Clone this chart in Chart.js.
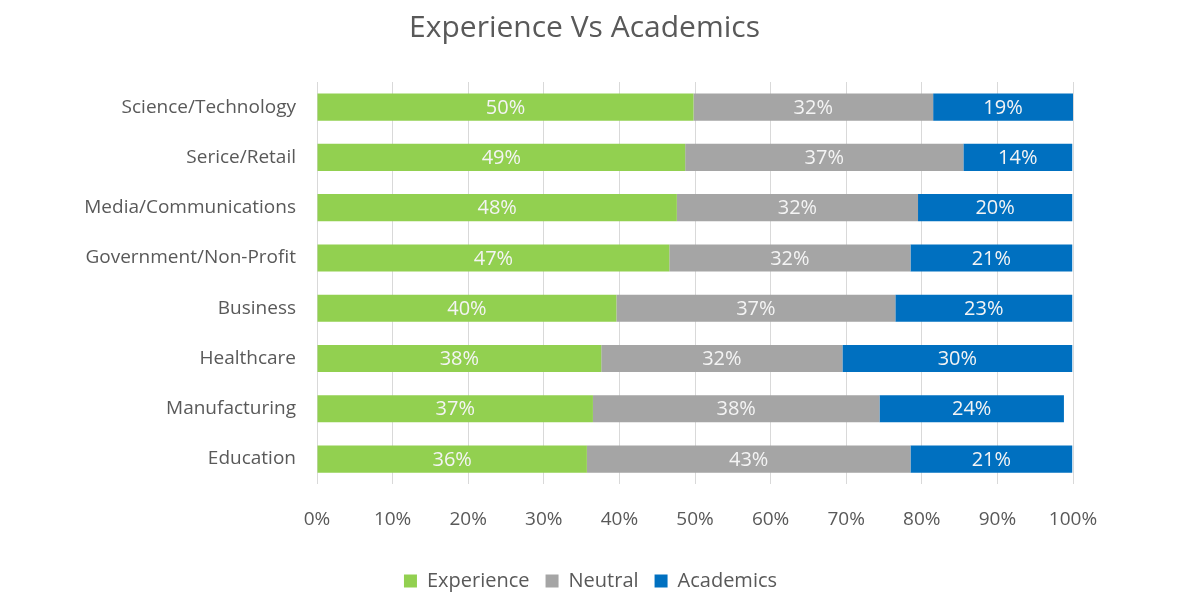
<!DOCTYPE html>
<html>
<head>
<meta charset="utf-8">
<script src="https://cdn.jsdelivr.net/npm/chart.js@4.4.0/dist/chart.umd.min.js"></script>
<style>
  html, body { margin: 0; padding: 0; background: #fff; }
  #wrap { width: 1200px; height: 614px; }
</style>
</head>
<body>
<div id="wrap"><canvas id="myChart"></canvas></div>
<script>
// categorias y valores (en %)
const categorias = [
  "Science/Technology",
  "Serice/Retail",
  "Media/Communications",
  "Government/Non-Profit",
  "Business",
  "Healthcare",
  "Manufacturing",
  "Education"
];
const experiencia = [49.8, 48.7, 47.6, 46.6, 39.6, 37.6, 36.5, 35.7];
const neutral = [31.7, 36.8, 31.9, 31.9, 36.9, 31.9, 37.9, 42.8];
const academicos = [18.5, 14.4, 20.4, 21.4, 23.4, 30.4, 24.4, 21.4];
const ticksX = [0, 10, 20, 30, 40, 50, 60, 70, 80, 90, 100];

const fuente = "'Open Sans', sans-serif";
const gris = "#595959";

//plugin que escribe el porcentaje dentro de cada barra
const etiquetas = {
  id: "etiquetas",
  afterDatasetsDraw(chart) {
    const ctx = chart.ctx;
    ctx.save();
    ctx.font = "20px " + fuente;
    ctx.textAlign = "center";
    ctx.textBaseline = "middle";
    ctx.fillStyle = "#f4f4f4";
    chart.data.datasets.forEach((ds, i) => {
      const meta = chart.getDatasetMeta(i);
      meta.data.forEach((bar, j) => {
        const x = (bar.x + bar.base) / 2;
        ctx.fillText(Math.round(ds.data[j]) + "%", x, bar.y + 1);
      });
    });
    ctx.restore();
  }
};

//plugin que corre el titulo y la leyenda un poco a la derecha, como en el original
const centrado = {
  id: "centrado",
  afterLayout(chart) {
    if (chart.titleBlock) {
      chart.titleBlock.left += 18;
      chart.titleBlock.right += 18;
    }
    if (chart.legend) {
      chart.legend.left += 24;
      chart.legend.right += 24;
    }
  }
};

const config = {
  type: "bar",
  data: {
    labels: categorias,
    datasets: [
      { label: "Experience", data: experiencia, backgroundColor: "#92D050" },
      { label: "Neutral", data: neutral, backgroundColor: "#A5A5A5" },
      { label: "Academics", data: academicos, backgroundColor: "#0070C0" }
    ]
  },
  options: {
    indexAxis: "y",
    responsive: true,
    maintainAspectRatio: false,
    animation: false,
    layout: { padding: { top: 8, bottom: 13, left: 60, right: 127 } },
    datasets: {
      bar: { barPercentage: 0.54, categoryPercentage: 1 }
    },
    scales: {
      x: {
        stacked: true,
        min: 0,
        max: 100,
        afterBuildTicks: (scale) => {
          scale.ticks = ticksX.map((v) => ({ value: v }));
        },
        ticks: {
          callback: (v) => v + "%",
          color: gris,
          font: { family: fuente, size: 19 },
          padding: 24,
          maxRotation: 0
        },
        grid: { color: "#d9d9d9", drawTicks: false },
        border: { display: false }
      },
      y: {
        stacked: true,
        afterFit: (scale) => { scale.width = 257; },
        ticks: {
          color: gris,
          font: { family: fuente, size: 19 },
          padding: 21
        },
        grid: { display: false, drawTicks: false },
        border: { display: false }
      }
    },
    plugins: {
      title: {
        display: true,
        text: "Experience Vs Academics",
        color: gris,
        font: { family: fuente, size: 30, weight: "normal" },
        padding: { top: 2, bottom: 36 }
      },
      legend: {
        position: "bottom",
        labels: {
          color: gris,
          font: { family: fuente, size: 20 },
          boxWidth: 13,
          boxHeight: 13,
          padding: 16
        }
      },
      tooltip: { enabled: false }
    }
  },
  plugins: [etiquetas, centrado]
};

new Chart(document.getElementById("myChart"), config);
</script>
</body>
</html>
